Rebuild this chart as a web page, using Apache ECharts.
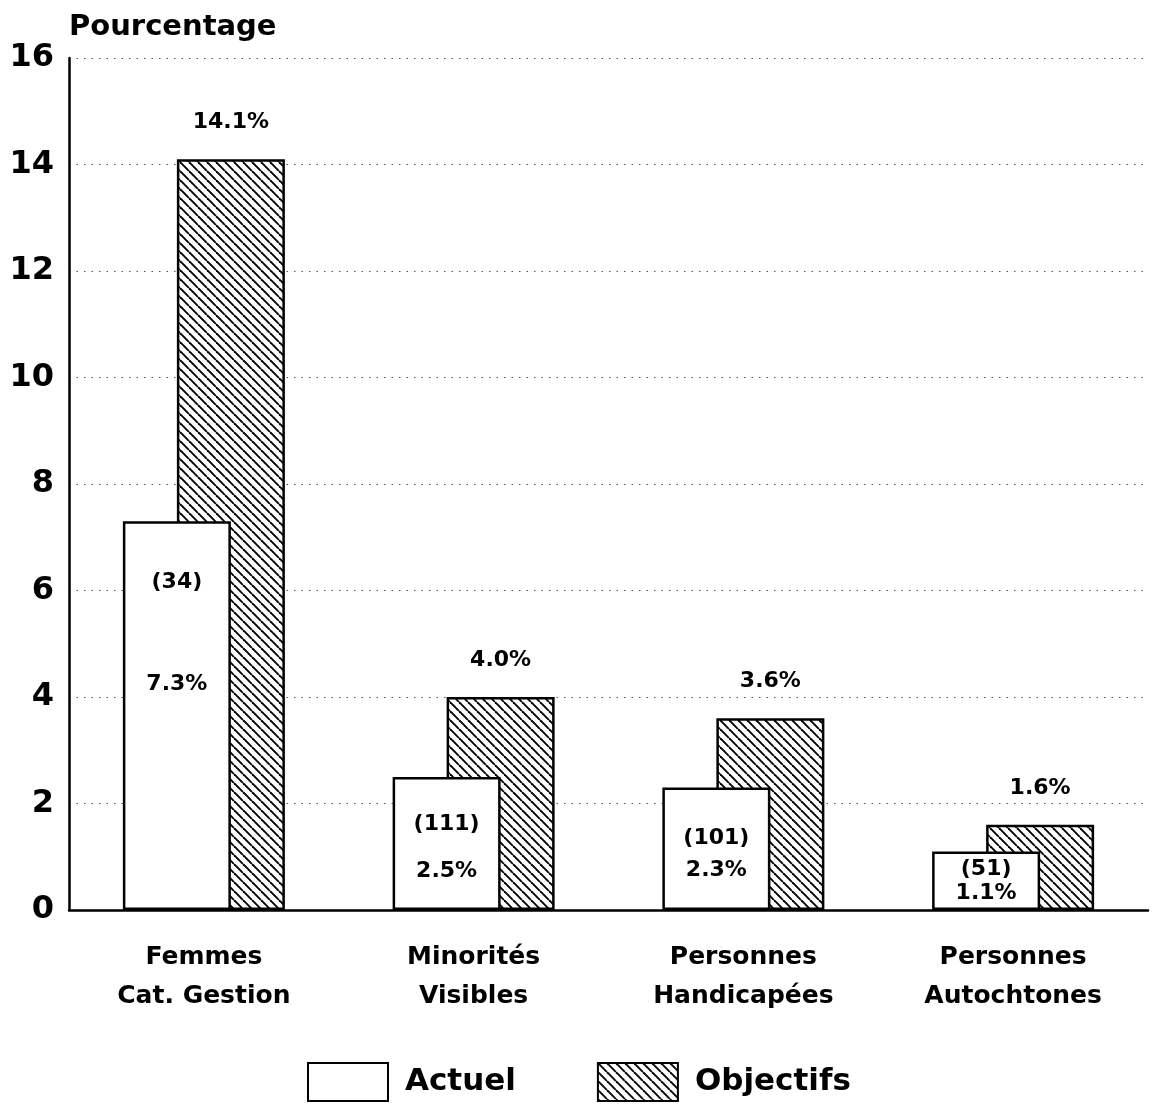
<!DOCTYPE html>
<html>
<head>
<meta charset="utf-8">
<script src="https://cdn.jsdelivr.net/npm/echarts@6/dist/echarts.min.js"></script>
<style>
  html, body { margin: 0; padding: 0; background: #fff; }
  #chart { width: 1153px; height: 1113px; }
</style>
</head>
<body>
<div id="chart"></div>
<script>
// data
const categories = ['Femmes\nCat. Gestion', 'Minorités\nVisibles', 'Personnes\nHandicapées', 'Personnes\nAutochtones'];
const actuel = [7.3, 2.5, 2.3, 1.1];
const objectifs = [14.1, 4.0, 3.6, 1.6];
const counts = [34, 111, 101, 51];
const yTicks = [0, 2, 4, 6, 8, 10, 12, 14, 16];

// label layout inside the white bars (gap between the two lines, vertical shift)
const innerGap = [102, 47, 32, 24];
const innerShift = [-82, 4, 6, 1];

const FONT = '"DejaVu Sans", sans-serif';

// diagonal hatch tile
const makeHatch = () => {
  const size = 9;
  const c = document.createElement('canvas');
  c.width = size;
  c.height = size;
  const ctx = c.getContext('2d');
  ctx.fillStyle = '#fff';
  ctx.fillRect(0, 0, size, size);
  ctx.strokeStyle = '#000';
  ctx.lineWidth = 1.9;
  [-size, 0, size].forEach(k => {
    ctx.beginPath();
    ctx.moveTo(k, 0);
    ctx.lineTo(k + size, size);
    ctx.stroke();
  });
  return c;
};

const chart = echarts.init(document.getElementById('chart'));

const option = {
  animation: false,
  backgroundColor: '#fff',
  title: {
    text: 'Pourcentage',
    left: 64,
    top: 8,
    textStyle: { fontFamily: FONT, fontSize: 29, fontWeight: 'bold', color: '#000' }
  },
  legend: {
    data: ['Actuel', 'Objectifs'],
    left: 307,
    top: 1062,
    padding: 0,
    itemWidth: 80,
    itemHeight: 38,
    itemGap: 81,
    icon: 'rect',
    textStyle: {
      fontFamily: FONT,
      fontSize: 31,
      fontWeight: 'bold',
      color: '#000',
      padding: [0, 0, 0, 12]
    }
  },
  grid: {
    left: 69,
    right: 5,
    top: 58,
    bottom: 203,
    outerBoundsMode: 'none'
  },
  xAxis: {
    type: 'category',
    data: categories,
    axisLine: { lineStyle: { color: '#000', width: 2.5 } },
    axisTick: { show: false },
    axisLabel: {
      margin: 28,
      fontFamily: FONT,
      fontSize: 25,
      fontWeight: 'bold',
      lineHeight: 39,
      color: '#000'
    }
  },
  yAxis: {
    type: 'value',
    min: yTicks[0],
    max: yTicks[yTicks.length - 1],
    interval: 2,
    axisLine: { show: true, lineStyle: { color: '#000', width: 2.5 } },
    axisTick: { show: false },
    axisLabel: {
      margin: 15,
      fontFamily: FONT,
      fontSize: 32,
      fontWeight: 'bold',
      color: '#000'
    },
    splitLine: {
      show: true,
      lineStyle: { color: '#555', width: 1.2, type: [1.5, 6] }
    }
  },
  series: [
    {
      name: 'Actuel',
      type: 'bar',
      z: 3,
      barWidth: 108,
      barGap: '-50%',
      data: actuel.map((v, i) => ({
        value: v,
        label: { lineHeight: innerGap[i], offset: [0, innerShift[i]] }
      })),
      itemStyle: { color: '#fff', borderColor: '#000', borderWidth: 2.5 },
      label: {
        show: true,
        position: 'inside',
        fontFamily: FONT,
        fontSize: 22,
        fontWeight: 'bold',
        color: '#000',
        formatter: p => `(${counts[p.dataIndex]})\n${p.value.toFixed(1)}%`
      }
    },
    {
      name: 'Objectifs',
      type: 'bar',
      z: 2,
      barWidth: 108,
      barGap: '-50%',
      data: objectifs,
      itemStyle: {
        color: { image: makeHatch(), repeat: 'repeat' },
        borderColor: '#000',
        borderWidth: 2.5
      },
      label: {
        show: true,
        position: 'top',
        distance: 26,
        fontFamily: FONT,
        fontSize: 22,
        fontWeight: 'bold',
        color: '#000',
        formatter: p => `${p.value.toFixed(1)}%`
      }
    }
  ]
};

chart.setOption(option);
</script>
</body>
</html>
